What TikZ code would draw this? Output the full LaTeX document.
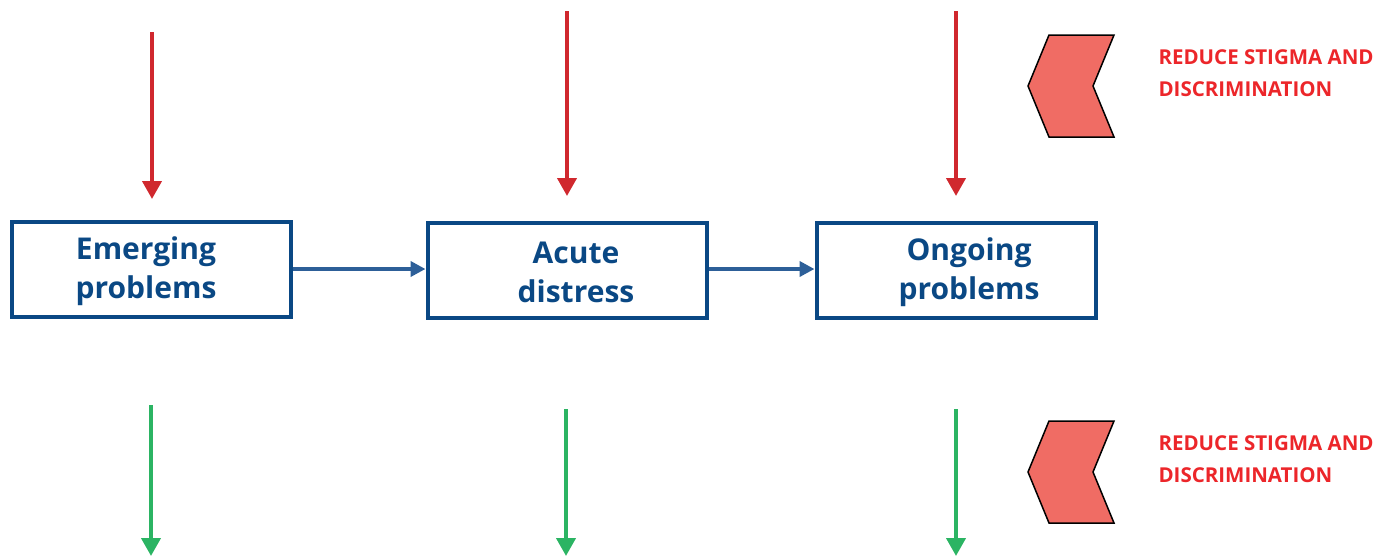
\documentclass[tikz,border=0pt]{standalone}
\usepackage{fontspec}
\setmainfont{Open Sans}
\usetikzlibrary{positioning,arrows.meta}

\definecolor{stageblue}{RGB}{10,72,132}
\definecolor{linkblue}{RGB}{45,95,152}
\definecolor{riskred}{RGB}{208,40,46}
\definecolor{helpgreen}{RGB}{43,180,99}
\definecolor{chevfill}{RGB}{240,108,100}
\definecolor{notered}{RGB}{236,38,42}

\begin{document}
\begin{tikzpicture}[x=1pt,y=-1pt,
    stage/.style={draw=stageblue,line width=4pt,minimum width=279pt,minimum height=95pt},
    stagetext/.style={align=center,text=stageblue,font=\fontsize{30}{39}\selectfont\bfseries,yshift=-2pt},
    link/.style={-{Triangle[width=15pt,length=15pt]},linkblue,line width=4.5pt},
    down/.style={-{Triangle[width=19pt,length=18pt]},line width=4pt},
    chev/.style={draw=black,fill=chevfill,line width=1.5pt,line join=miter},
    note/.style={anchor=west,align=left,text=notered,font=\fontsize{20.5}{32}\selectfont\bfseries}]
  \useasboundingbox (0,0) rectangle (1379,557);
  % stages
  \node[stage,label={[stagetext,xshift=-5pt]center:Emerging\\problems}] (emerg) at (151,269) {};
  \node[stage,label={[stagetext,xshift=9pt]center:Acute\\distress}] (acute) at (567,270) {};
  \node[stage,label={[stagetext,xshift=13pt]center:Ongoing\\problems}] (ongo) at (956,270) {};
  \draw[link] (emerg.east |- 0,269) -- (acute.west |- 0,269);
  \draw[link] (acute.east |- 0,269) -- (ongo.west |- 0,269);
  % arrows in from above and out below
  \coordinate (r1) at (152,32);  \coordinate (r1e) at (152,199);
  \coordinate (r2) at (567,11);  \coordinate (r2e) at (567,196);
  \coordinate (r3) at (956,11);  \coordinate (r3e) at (956,196);
  \coordinate (g1) at (151,405); \coordinate (g1e) at (151,556);
  \coordinate (g2) at (566,409); \coordinate (g2e) at (566,556);
  \coordinate (g3) at (956,409); \coordinate (g3e) at (956,556);
  \foreach \a in {1,2,3}{
    \draw[down,riskred] (r\a) -- (r\a e);
    \draw[down,helpgreen] (g\a) -- (g\a e);
  }
  % chevrons
  \draw[chev] (1049,35) -- (1114,35) -- (1093,86) -- (1114,137) -- (1049,137) -- (1028,86) -- cycle;
  \draw[chev] (1049,421) -- (1114,421) -- (1093,472) -- (1114,523) -- (1049,523) -- (1028,472) -- cycle;
  \node[note] (topnote) at (1155,73) {REDUCE STIGMA AND\\DISCRIMINATION};
  \node[note] (lownote) at (1155,459) {REDUCE STIGMA AND\\DISCRIMINATION};
\end{tikzpicture}
\end{document}
